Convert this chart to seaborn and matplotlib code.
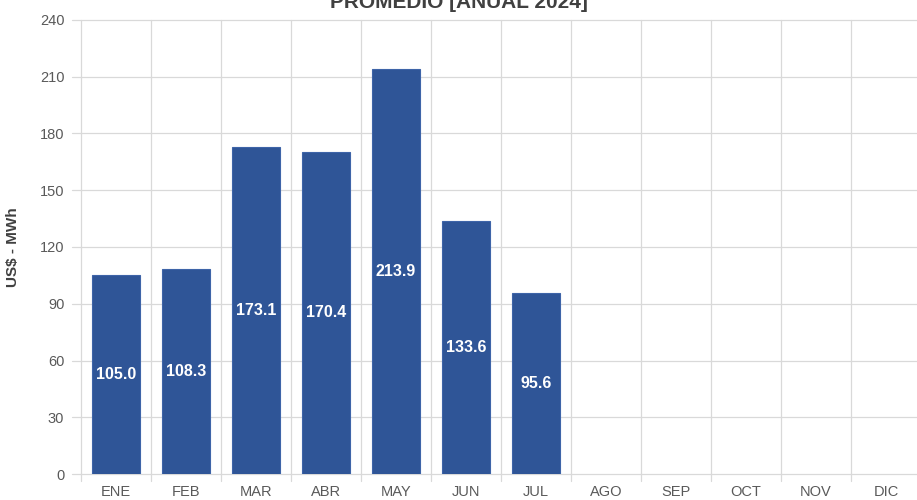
import matplotlib
matplotlib.use("Agg")
import matplotlib.pyplot as plt
import seaborn as sns
import pandas as pd
import numpy as np

months = ["ENE", "FEB", "MAR", "ABR", "MAY", "JUN", "JUL", "AGO", "SEP", "OCT", "NOV", "DIC"]
values = [105.0, 108.3, 173.1, 170.4, 213.9, 133.6, 95.6, None, None, None, None, None]
yticks = [0, 30, 60, 90, 120, 150, 180, 210, 240]
title = "PROMEDIO [ANUAL 2024]"
ylabel = "US$ - MWh"

sns.set_theme(style="white")
plt.rcParams['font.family'] = ['Liberation Sans Narrow', 'Liberation Sans', 'DejaVu Sans']

df = pd.DataFrame({"mes": months, "valor": [np.nan if v is None else v for v in values]})

fig = plt.figure(figsize=(9.17, 5.0), dpi=100)
W, H = 917, 500
x0, x1 = 81, 921
y0, y1 = 474, 20
ax = fig.add_axes([x0 / W, 1 - y0 / H, (x1 - x0) / W, (y0 - y1) / H])

sns.barplot(data=df, x="mes", y="valor", order=months, color="#2F5597",
            width=0.69, saturation=1, edgecolor="#3E64A8", linewidth=0.8, ax=ax, zorder=3)

ax.set_ylim(0, 240)
ax.set_xlim(-0.5, 11.5)
ax.set_yticks(yticks)
ax.set_yticklabels([str(t) for t in yticks], color="#595959", fontsize=10.5)
ax.tick_params(axis="x", colors="#595959", labelsize=10.5, length=0, pad=8)
ax.tick_params(axis="y", length=0, pad=12)
ax.set_xlabel("")
ax.set_ylabel(ylabel, color="#404040", fontsize=11, fontweight="bold", labelpad=14,
              family=['Liberation Sans', 'DejaVu Sans'])

# gridlines
for t in yticks:
    ax.plot([-0.63, 11.5], [t, t], color="#D9D9D9", lw=0.9, zorder=1, clip_on=False)
for b in np.arange(-0.5, 12.0, 1.0):
    ax.plot([b, b], [-3.5, 240], color="#D9D9D9", lw=0.9, zorder=1, clip_on=False)

for s in ax.spines.values():
    s.set_visible(False)

for i, v in enumerate(values):
    if v is not None:
        ax.text(i, v / 2, f"{v:.1f}", ha="center", va="center", color="white",
                fontsize=11.5, fontweight="bold", zorder=5,
                family=['Liberation Sans', 'DejaVu Sans'])

fig.text(0.5, 1.0 - 2 / H, title, ha="center", va="center", fontsize=15,
         fontweight="bold", color="#404040", family=['Liberation Sans', 'DejaVu Sans'])

fig.savefig("out.png", dpi=100, facecolor="white")
